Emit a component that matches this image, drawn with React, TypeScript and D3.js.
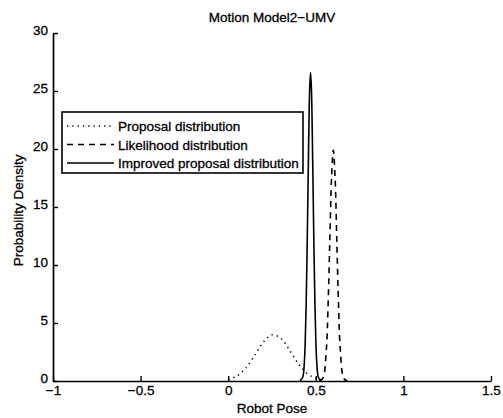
import { useEffect, useRef } from 'react';
import * as d3 from 'd3';

const [width, height] = [503, 418];
const margin = { top: 33, right: 12, bottom: 37, left: 53 };

// values
const proposalX = [0, 0.05, 0.1, 0.15, 0.2, 0.25, 0.3, 0.35, 0.4, 0.45, 0.5, 0.55];
const proposalY = [0.14, 0.44, 1.11, 2.18, 3.34, 3.98, 3.69, 2.67, 1.5, 0.66, 0.22, 0.06];

const likelihoodX = [0.52, 0.54, 0.56, 0.57, 0.58, 0.59, 0.6, 0.61, 0.62, 0.63, 0.64, 0.66, 0.68];
const likelihoodY = [0, 0.22, 2.69, 6.46, 12.07, 17.56, 19.9, 17.56, 12.07, 6.46, 2.69, 0.22, 0];

const improvedX = [0.41, 0.425, 0.435, 0.44, 0.445, 0.45, 0.455, 0.46, 0.465, 0.47, 0.475, 0.48, 0.485, 0.49, 0.495, 0.5, 0.505, 0.515, 0.53];
const improvedY = [0.01, 0.3, 1.75, 3.6, 6.63, 10.9, 16.1, 21.3, 25.2, 26.6, 25.2, 21.3, 16.1, 10.9, 6.63, 3.6, 1.75, 0.3, 0.01];

const xTicks = [-1, -0.5, 0, 0.5, 1, 1.5];
const yTicks = [0, 5, 10, 15, 20, 25, 30];

const seriesNames = ['Proposal distribution', 'Likelihood distribution', 'Improved proposal distribution'];
const dashes = ['1.3 4', '6 5', null];

const font = '"Liberation Sans", Arial, Helvetica, sans-serif';
const fs = 13.5;

var xScale = d3.scaleLinear().domain([-1, 1.5]).range([margin.left, width - margin.right]);
var yScale = d3.scaleLinear().domain([0, 30]).range([height - margin.bottom, margin.top]);

const fmt = (d: number) => String(d).replace('-', '\u2212');

// scanned print looks a bit heavy, thicken the glyphs slightly
const ink = (t: any) => t.attr('fill', '#000').attr('stroke', '#000').attr('stroke-width', 0.3);

function App() {
    const node = useRef<SVGSVGElement>(null);
    useEffect(() => {
        if (!node.current) return;
        const svg = d3.select(node.current);
        svg.selectAll('*').remove();
        svg.append('rect').attr('width', width).attr('height', height).attr('fill', '#fff');

        const line = d3.line<[number, number]>()
            .x(d => xScale(d[0]))
            .y(d => yScale(d[1]))
            .curve(d3.curveCatmullRom);

        const series = [
            d3.zip(proposalX, proposalY),
            d3.zip(likelihoodX, likelihoodY),
            d3.zip(improvedX, improvedY),
        ] as [number, number][][];

        series.forEach((s, i) => {
            svg.append('path')
                .datum(s)
                .attr('d', line)
                .attr('fill', 'none')
                .attr('stroke', '#000')
                .attr('stroke-width', i === 0 ? 1.5 : 1.6)
                .attr('stroke-dasharray', dashes[i]);
        });

        /** Axes, ticks pointing inward */
        const yAxis = svg.append('g')
            .attr('transform', `translate(${margin.left},0)`)
            .call(d3.axisLeft(yScale).tickValues(yTicks).tickSizeInner(-5).tickSizeOuter(0).tickPadding(5).tickFormat(d => fmt(+d)));
        const xAxis = svg.append('g')
            .attr('transform', `translate(0,${height - margin.bottom})`)
            .call(d3.axisBottom(xScale).tickValues(xTicks).tickSizeInner(-5).tickSizeOuter(0).tickPadding(4).tickFormat(d => fmt(+d)));
        [yAxis, xAxis].forEach(a => {
            a.attr('font-family', font).attr('font-size', fs);
            a.select('.domain').attr('stroke-width', 1.7);
            a.selectAll('line').attr('stroke-width', 1.4);
            ink(a.selectAll('text'));
        });
        yAxis.selectAll('text').attr('dy', '0.1em');

        /** Titles */
        ink(svg.append('text').attr('x', xScale(0.25)).attr('y', 22)
            .attr('text-anchor', 'middle').attr('font-family', font).attr('font-size', fs)
            .text('Motion Model2\u2212UMV'));
        ink(svg.append('text').attr('x', xScale(0.25)).attr('y', 413)
            .attr('text-anchor', 'middle').attr('font-family', font).attr('font-size', fs)
            .text('Robot Pose'));
        ink(svg.append('text')
            .attr('transform', `translate(23,${yScale(14.7)}) rotate(-90)`)
            .attr('text-anchor', 'middle').attr('font-family', font).attr('font-size', fs)
            .text('Probability Density'));

        /** Legend */
        const lg = svg.append('g').attr('transform', 'translate(62,112)');
        lg.append('rect').attr('width', 241).attr('height', 61)
            .attr('fill', '#fff').attr('stroke', '#000').attr('stroke-width', 1.6);
        seriesNames.forEach((name, i) => {
            const yy = 14 + i * 18.5;
            lg.append('line').attr('x1', 5).attr('x2', 52).attr('y1', yy).attr('y2', yy)
                .attr('stroke', '#000').attr('stroke-width', i === 0 ? 1.5 : 1.6)
                .attr('stroke-dasharray', dashes[i]);
            ink(lg.append('text').attr('x', 56).attr('y', yy + 5)
                .attr('font-family', font).attr('font-size', fs).text(name));
        });
    }, [node]);
    return (
        <svg ref={node} width={width} height={height} style={{ position: 'absolute', left: 0, top: 0 }}></svg>
    );
}

export default App;
